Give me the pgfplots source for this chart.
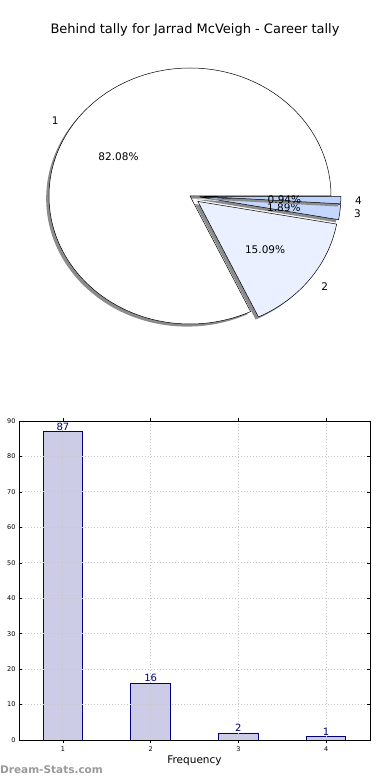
\documentclass[border=0pt]{standalone}
\usepackage{pgfplots}
\usepackage{pgfplotstable}
\pgfplotsset{compat=1.18}
\usepackage{fontspec}
\setmainfont{DejaVu Sans}
\definecolor{sliceA}{RGB}{255,255,255}
\definecolor{sliceB}{RGB}{234,240,255}
\definecolor{sliceC}{RGB}{196,216,255}
\definecolor{sliceD}{RGB}{188,210,252}
\definecolor{barfill}{RGB}{204,204,230}
\definecolor{baredge}{RGB}{0,0,128}
\pgfplotstableread{
cat val
1 87
2 16
3 2
4 1
}\datatable
\begin{document}
\begin{tikzpicture}
\path[use as bounding box] (0pt,0pt) rectangle (390pt,780pt);
% title
\node[font=\fontsize{13}{15}\selectfont] at (195pt,750pt) {Behind tally for Jarrad McVeigh - Career tally};
% pie
\def\cx{190}\def\cy{584}\def\rx{141}\def\ry{128}\def\total{106}
\xdef\cum{0}
\foreach \i/\e/\col in {0/0/sliceA,1/0.07/sliceB,2/0.07/sliceC,3/0.07/sliceD}{
  \pgfplotstablegetelem{\i}{val}\of\datatable
  \let\v\pgfplotsretval
  \pgfplotstablegetelem{\i}{cat}\of\datatable
  \let\lab\pgfplotsretval
  \pgfmathsetmacro\a{\cum/\total*360}
  \pgfmathsetmacro\b{(\cum+\v)/\total*360}
  \pgfmathsetmacro\m{(\a+\b)/2}
  \pgfmathsetmacro\ox{\cx+\e*\rx*cos(\m)}
  \pgfmathsetmacro\oy{\cy+\e*\ry*sin(\m)}
  \pgfmathsetmacro\pct{\v*100/\total}
  \fill[black!45] (\ox pt-2.8pt,\oy pt-2.6pt) -- ++(\a:\rx pt and \ry pt) arc[start angle=\a, end angle=\b, x radius=\rx pt, y radius=\ry pt] -- cycle;
  \filldraw[fill=\col, draw=black, line width=0.5pt, line join=round] (\ox pt,\oy pt) -- ++(\a:\rx pt and \ry pt) arc[start angle=\a, end angle=\b, x radius=\rx pt, y radius=\ry pt] -- cycle;
  \pgfmathsetmacro\lx{\ox+1.1*\rx*cos(\m)}
  \pgfmathsetmacro\ly{\oy+1.1*\ry*sin(\m)}
  \pgfmathparse{cos(\m)<0 ? 1 : 0}
  \ifnum\pgfmathresult=1
    \node[anchor=east, inner sep=0pt, font=\fontsize{10.5}{12}\selectfont] at (\lx pt,\ly pt) {\lab};
  \else
    \node[anchor=west, inner sep=0pt, font=\fontsize{10.5}{12}\selectfont] at (\lx pt,\ly pt) {\lab};
  \fi
  \pgfmathsetmacro\px{\ox+0.6*\rx*cos(\m)}
  \pgfmathsetmacro\py{\oy+0.6*\ry*sin(\m)-1.5}
  \node[inner sep=0pt, font=\fontsize{10.5}{12}\selectfont] at (\px pt,\py pt) {\pgfmathprintnumber[fixed,precision=2,fixed zerofill,assume math mode=true]{\pct}\%};
  \pgfmathsetmacro\newcum{\cum+\v}
  \xdef\cum{\newcum}
}
% bar chart
\begin{axis}[
  at={(19pt,40pt)}, anchor=south west,
  scale only axis, width=351pt, height=319pt,
  xmin=0.5, xmax=4.5, ymin=0, ymax=90,
  xtick={1,2,3,4}, ytick={0,10,...,90},
  tick align=inside,
  tick style={black, line width=0.5pt},
  major tick length=3pt,
  grid=major, major grid style={dash pattern=on 1pt off 2pt, gray!45, line width=0.8pt},
  axis on top,
  axis line style={black, line width=0.8pt},
  tick label style={font=\fontsize{6.5}{7.5}\selectfont},
  /pgf/number format/assume math mode=true,
  xlabel={Frequency},
  xlabel style={font=\fontsize{10.5}{12}\selectfont, yshift=2pt},
  ybar, bar width=0.45, bar shift=0pt,
  nodes near coords,
  nodes near coords style={font=\fontsize{10}{12}\selectfont, text=baredge, inner sep=1pt},
]
\addplot[fill=barfill, draw=baredge, line width=0.8pt] table[x=cat, y=val] {\datatable};
\end{axis}
\node[anchor=west, text=gray!80, font=\bfseries\fontsize{10.5}{12}\selectfont, inner sep=0pt] at (0pt,10pt) {Dream-Stats.com};
\end{tikzpicture}
\end{document}
